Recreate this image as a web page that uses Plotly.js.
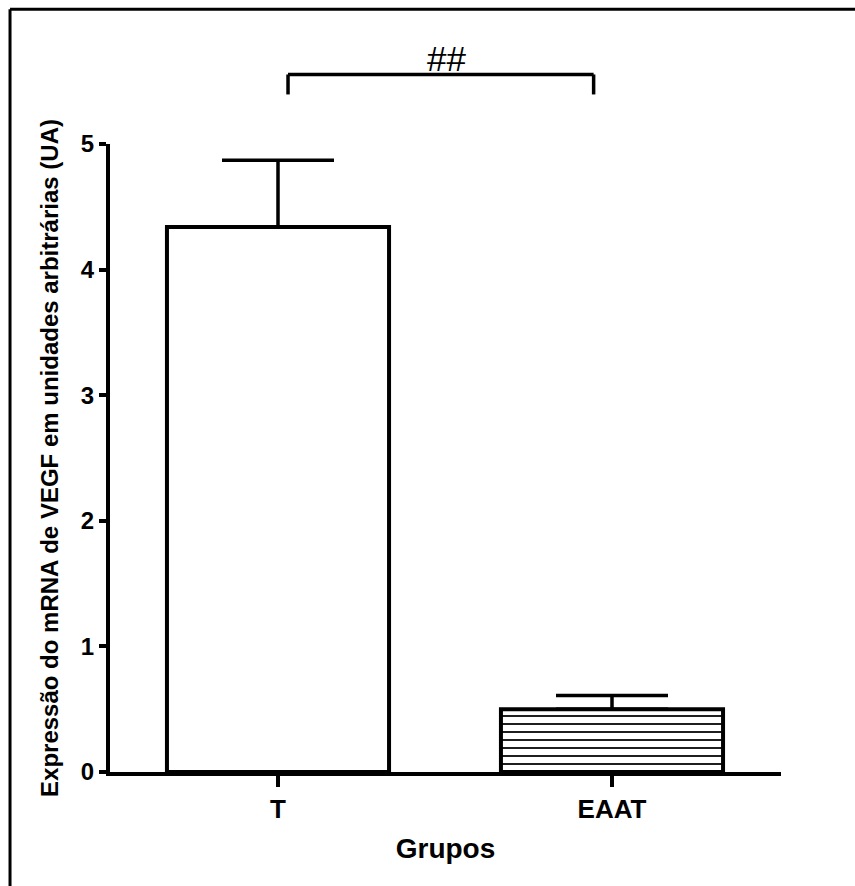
<!DOCTYPE html>
<html>
<head>
<meta charset="utf-8">
<script src="https://cdn.plot.ly/plotly-3.0.1.min.js"></script>
<style>
html,body{margin:0;padding:0;background:#fff;}
#chart{width:855px;height:886px;}
</style>
</head>
<body>
<div id="chart"></div>
<script>
// Data
const categories = ["T", "EAAT"];
const means = [4.34, 0.50];
const errorsUp = [0.53, 0.11];
const yTicks = [0, 1, 2, 3, 4, 5];
const yTickLabels = ["0", "1", "2", "3", "4", "5"];
const sigLabel = "##";
const yTitle = "Expressão do mRNA de VEGF em unidades arbitrárias (UA)";
const xTitle = "Grupos";

const FONT = "Liberation Sans, Arial, sans-serif";

const traces = categories.map((c, i) => ({
  type: "bar",
  x: [i],
  y: [means[i]],
  width: 0.665,
  marker: {
    color: "white",
    line: {color: "black", width: 4},
    pattern: i === 1 ? {shape: "-", size: 8, solidity: 0.22, fgcolor: "black", bgcolor: "white", fillmode: "replace"} : {shape: ""}
  },
  error_y: {
    type: "data", symmetric: false,
    array: [errorsUp[i]], arrayminus: [0],
    color: "black", thickness: 3.5, width: 56
  },
  showlegend: false,
  hoverinfo: "skip"
}));

// significance bracket (x in data units, y in paper units above the plot)
const bx0 = 0.03, bx1 = 0.945, byTop = 1.1107, byBot = 1.0789;

const layout = {
  width: 855, height: 886,
  margin: {l: 110, r: 74, t: 144, b: 114},
  paper_bgcolor: "white", plot_bgcolor: "white",
  font: {family: FONT, color: "black"},
  xaxis: {
    range: [-0.503, 1.506],
    tickvals: [0, 1], ticktext: categories,
    showline: true, linewidth: 4, linecolor: "black",
    ticks: "outside", ticklen: 11, tickwidth: 4, tickcolor: "black",
    showgrid: false, zeroline: false,
    tickfont: {family: FONT, size: 26, color: "black", weight: "bold"},
    title: {text: "<b>" + xTitle + "</b>", font: {family: FONT, size: 28, color: "black"}, standoff: 16},
    automargin: false, fixedrange: true
  },
  yaxis: {
    range: [0, 5],
    tickvals: yTicks, ticktext: yTickLabels,
    showline: true, linewidth: 4, linecolor: "black",
    ticks: "outside", ticklen: 7, tickwidth: 4, tickcolor: "black",
    showgrid: false, zeroline: false,
    tickfont: {family: FONT, size: 24, color: "black", weight: "bold"},
    title: {text: "<b>" + yTitle + "</b>", font: {family: FONT, size: 24, color: "black"}, standoff: 16},
    automargin: false, fixedrange: true
  },
  shapes: [
    {type: "line", xref: "x", yref: "paper", x0: bx0, x1: bx1, y0: byTop, y1: byTop, line: {color: "black", width: 3.5}},
    {type: "line", xref: "x", yref: "paper", x0: bx0, x1: bx0, y0: byTop, y1: byBot, line: {color: "black", width: 3.5}},
    {type: "line", xref: "x", yref: "paper", x0: bx1, x1: bx1, y0: byTop, y1: byBot, line: {color: "black", width: 3.5}},
    // outer frame (top and left edges)
    {type: "line", xref: "paper", yref: "paper", x0: -0.149, x1: 1.2, y0: 1.2145, y1: 1.2145, line: {color: "black", width: 3}},
    {type: "line", xref: "paper", yref: "paper", x0: -0.149, x1: -0.149, y0: 1.2145, y1: -0.2, line: {color: "black", width: 3}}
  ],
  annotations: [
    {xref: "x", yref: "paper", x: 0.505, y: byTop, text: sigLabel, showarrow: false,
     yanchor: "bottom", yshift: -6, font: {family: FONT, size: 35, color: "black"}}
  ]
};

Plotly.newPlot("chart", traces, layout, {displayModeBar: false, staticPlot: true});
</script>
</body>
</html>
